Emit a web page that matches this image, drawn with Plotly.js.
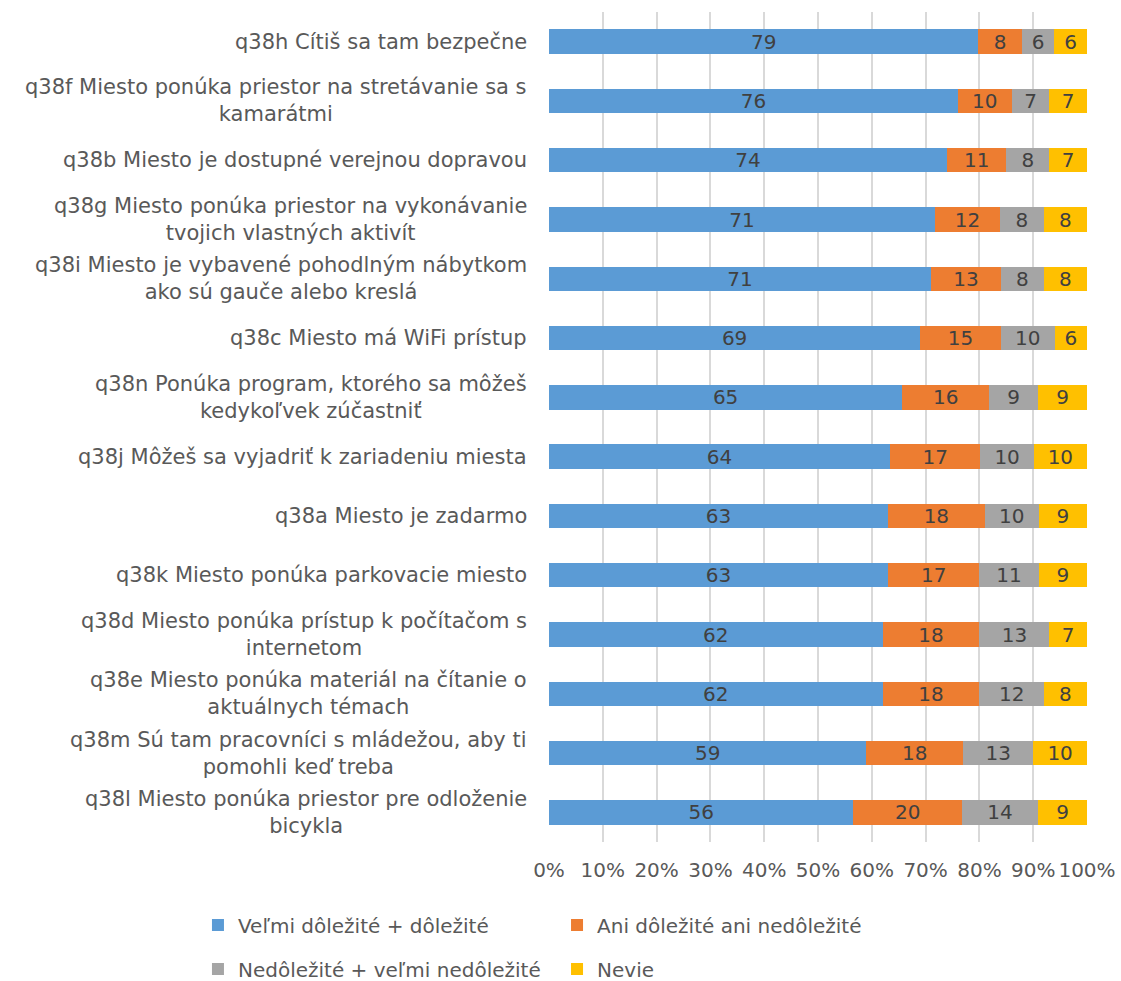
<!DOCTYPE html>
<html>
<head>
<meta charset="utf-8">
<script src="https://cdn.plot.ly/plotly-3.0.1.min.js"></script>
<style>html,body{margin:0;padding:0;background:#fff;}</style>
</head>
<body>
<div id="chart" style="width:1121px;height:981px;"></div>
<script>
const categories = [
  "q38h Cítiš sa tam bezpečne",
  "q38f Miesto ponúka priestor na stretávanie sa s<br>kamarátmi",
  "q38b Miesto je dostupné verejnou dopravou",
  "q38g Miesto ponúka priestor na vykonávanie<br>tvojich vlastných aktivít",
  "q38i Miesto je vybavené pohodlným nábytkom<br>ako sú gauče alebo kreslá",
  "q38c Miesto má WiFi prístup",
  "q38n Ponúka program, ktorého sa môžeš<br>kedykoľvek zúčastniť",
  "q38j Môžeš sa vyjadriť k zariadeniu miesta",
  "q38a Miesto je zadarmo",
  "q38k Miesto ponúka parkovacie miesto",
  "q38d Miesto ponúka prístup k počítačom s<br>internetom",
  "q38e Miesto ponúka materiál na čítanie o<br>aktuálnych témach",
  "q38m Sú tam pracovníci s mládežou, aby ti<br>pomohli keď treba",
  "q38l Miesto ponúka priestor pre odloženie<br>bicykla"
];
const seriesNames = [
  "Veľmi dôležité + dôležité",
  "Ani dôležité ani nedôležité",
  "Nedôležité + veľmi nedôležité",
  "Nevie"
];
const important    = [79,76,74,71,71,69,65,64,63,63,62,62,59,56];
const neutral      = [8,10,11,12,13,15,16,17,18,17,18,18,18,20];
const unimportant  = [6,7,8,8,8,10,9,10,10,11,13,12,13,14];
const dontKnow     = [6,7,7,8,8,6,9,10,9,9,7,8,10,9];
const tickVals = [0,10,20,30,40,50,60,70,80,90,100];
const tickText = ["0%","10%","20%","30%","40%","50%","60%","70%","80%","90%","100%"];

const colors = ["#5b9bd5","#ed7d31","#a5a5a5","#ffc000"];
const seriesValues = [important, neutral, unimportant, dontKnow];
const legendIds = ["legend","legend2","legend3","legend4"];
const FONT = "'DejaVu Sans', sans-serif";

const traces = seriesValues.map((vals, i) => ({
  type: "bar",
  orientation: "h",
  name: seriesNames[i],
  legend: legendIds[i],
  x: vals,
  y: categories,
  text: vals.map(String),
  texttemplate: "%{text}",
  textposition: "inside",
  insidetextanchor: "middle",
  textangle: 0,
  constraintext: "none",
  textfont: {family: FONT, size: 20, color: "#404040"},
  marker: {color: colors[i], line: {width: 0}},
  hoverinfo: "skip"
}));

const annotations = categories.map(c => ({
  x: 0, xref: "paper", xanchor: "right", xshift: -20,
  y: c, yref: "y", yanchor: "middle",
  text: c, showarrow: false, align: "center",
  font: {family: FONT, size: 21, color: "#595959"}
}));

function legendAt(x, y) {
  return {
    orientation: "h",
    xref: "container", yref: "container",
    x: x, y: y, xanchor: "left", yanchor: "middle",
    itemwidth: 30,
    font: {family: FONT, size: 20, color: "#595959"},
    bgcolor: "rgba(0,0,0,0)"
  };
}

const layout = {
  width: 1121, height: 981,
  margin: {l: 549, r: 34, t: 12, b: 139},
  barmode: "stack",
  barnorm: "percent",
  bargap: 0.59,
  paper_bgcolor: "#fff",
  plot_bgcolor: "#fff",
  font: {family: FONT, size: 20, color: "#595959"},
  xaxis: {
    range: [0, 100],
    tickvals: tickVals,
    ticktext: tickText,
    showgrid: true, gridcolor: "#d9d9d9", gridwidth: 2,
    zeroline: false, showline: false,
    ticks: "", ticklen: 0,
    ticklabelstandoff: 14,
    automargin: false,
    tickfont: {family: FONT, size: 20, color: "#595959"},
    fixedrange: true
  },
  yaxis: {
    type: "category",
    autorange: "reversed",
    showticklabels: false,
    showgrid: false, zeroline: false, showline: false,
    automargin: false,
    fixedrange: true
  },
  annotations: annotations,
  showlegend: true,
  legend:  legendAt(0.1766, 0.0571),
  legend2: legendAt(0.4969, 0.0571),
  legend3: legendAt(0.1766, 0.0122),
  legend4: legendAt(0.4969, 0.0122)
};

Plotly.newPlot("chart", traces, layout, {displayModeBar: false, staticPlot: true});
</script>
</body>
</html>
